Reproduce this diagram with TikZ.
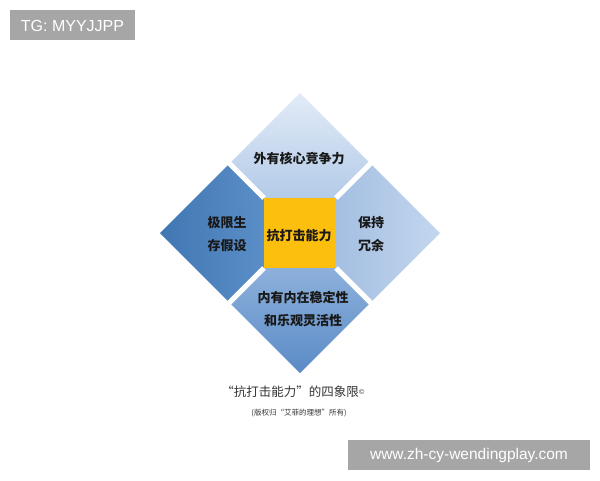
\documentclass[tikz,border=0pt]{standalone}
\usepackage{fontspec}
\newfontfamily\cjk{Noto Sans CJK SC}
\newfontfamily\wm{Liberation Sans}
\definecolor{toplight}{HTML}{E2EBF7}
\definecolor{topdark}{HTML}{B3CBE8}
\definecolor{leftdark}{HTML}{4077B3}
\definecolor{leftlight}{HTML}{5B8EC7}
\definecolor{rightA}{HTML}{A4BFE2}
\definecolor{rightB}{HTML}{C3D6EE}
\definecolor{botA}{HTML}{8DB0DB}
\definecolor{botB}{HTML}{5A8BC6}
\definecolor{gold}{HTML}{FDBF0E}
\definecolor{wmgray}{HTML}{A6A6A6}
\definecolor{captxt}{HTML}{333333}
\tikzset{
  gap/.style={white, line width=5pt},
  lbl/.style={font=\cjk\bfseries\fontsize{13}{23}\selectfont, text=black!90, align=center, inner sep=0pt},
  wmbox/.style={fill=wmgray, text=white, inner sep=0pt, font=\wm\fontsize{16}{16}\selectfont},
}
\begin{document}
\begin{tikzpicture}[x=1pt,y=-1pt]
\fill[white] (0,0) rectangle (600,480);
\useasboundingbox (0,0) rectangle (600,480);
% watermark boxes
\fill[wmgray] (10,10) rectangle (135,40);
\node[wmbox, fill=none] (tg) at (72.5,25.5) {TG: MYYJJPP};
\fill[wmgray] (348,440) rectangle (590,470);
\node[wmbox, fill=none, font=\wm\fontsize{15.5}{16}\selectfont] (url) at (469,455.5) {www.zh-cy-wendingplay.com};
% pieces
\shade[top color=toplight, bottom color=topdark] (264,198) -- (229.5,163.5) -- (300,93) -- (370.5,163.5) -- (336,198) -- cycle;
\shade[left color=leftdark, right color=leftlight] (229.5,163.5) -- (264,198) -- (264,268) -- (229.5,302.5) -- (160,233) -- cycle;
\shade[left color=rightA, right color=rightB] (370.5,163.5) -- (440,233) -- (370.5,302.5) -- (336,268) -- (336,198) -- cycle;
\shade[top color=botA, bottom color=botB] (264,268) -- (336,268) -- (370.5,302.5) -- (300,373) -- (229.5,302.5) -- cycle;
% gaps
\draw[gap] (264,198) -- (226,160);
\draw[gap] (336,198) -- (374,160);
\draw[gap] (264,268) -- (226,306);
\draw[gap] (336,268) -- (374,306);
% centre
\fill[gold] (264,198) rectangle (336,268);
% labels
\node[lbl] (core) at (299,236) {抗打击能力};
\node[lbl] (top) at (299,159) {外有核心竞争力};
\node[lbl] (left) at (227,234) {极限生\\存假设};
\node[lbl] (right) at (371,234) {保持\\冗余};
\node[lbl] (bottom) at (303,309) {内有内在稳定性\\和乐观灵活性};
% captions
\node[font=\cjk\fontsize{12.5}{14}\selectfont, text=captxt, inner sep=0pt] (cap) at (293,392) {“抗打击能力”的四象限\raisebox{2pt}{\fontsize{7}{7}\selectfont ©}};
\node[font=\cjk\fontsize{7.5}{9}\selectfont, text=captxt, inner sep=0pt] (sub) at (299,413) {(版权归“艾菲的理想”所有)};
\end{tikzpicture}
\end{document}
